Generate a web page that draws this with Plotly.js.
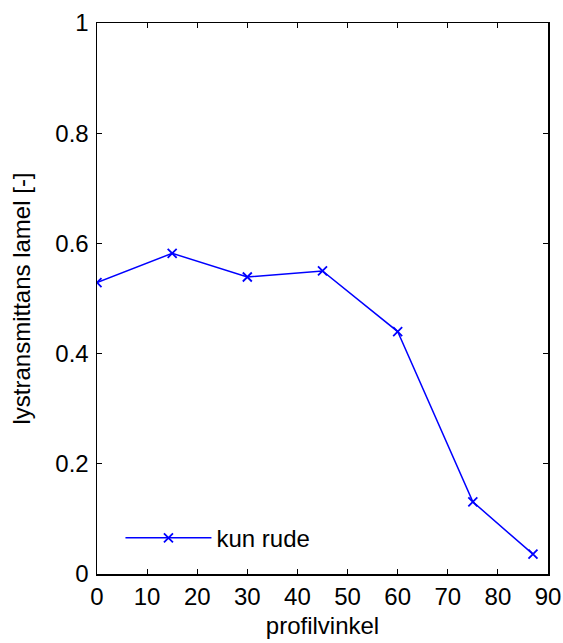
<!DOCTYPE html>
<html>
<head>
<meta charset="utf-8">
<script src="https://cdn.plot.ly/plotly-3.0.1.min.js"></script>
<style>html,body{margin:0;padding:0;background:#fff;}#plot{width:563px;height:643px;}</style>
</head>
<body>
<div id="plot"></div>
<script>
const profileAngles = [0, 15, 30, 45, 60, 75, 87];
const transmittance = [0.529, 0.582, 0.539, 0.550, 0.440, 0.131, 0.036];
const seriesName = "kun rude";
const xTicks = [0, 10, 20, 30, 40, 50, 60, 70, 80, 90];
const yTicks = [0, 0.2, 0.4, 0.6, 0.8, 1];
const yTickLabels = ["0", "0.2", "0.4", "0.6", "0.8", "1"];

const font = {family: "Liberation Sans, Arial, sans-serif", size: 24, color: "#000"};
const titleFont = {family: "Liberation Sans, Arial, sans-serif", size: 24, color: "#000"};

const axisCommon = {
  showgrid: false, zeroline: false, showline: true, mirror: "ticks",
  linecolor: "#000", linewidth: 1.5, ticks: "inside", ticklen: 5, tickwidth: 1.2,
  tickcolor: "#000", tickfont: font
};

Plotly.newPlot("plot", [{
  x: profileAngles, y: transmittance, name: seriesName,
  type: "scatter", mode: "lines+markers",
  line: {color: "#0000ff", width: 1.5},
  marker: {symbol: "x-thin-open", size: 9, color: "#0000ff", line: {color: "#0000ff", width: 1.8}}
}], {
  width: 563, height: 643,
  margin: {l: 97, r: 15, t: 23, b: 69, pad: 0},
  paper_bgcolor: "#fff", plot_bgcolor: "#fff",
  font: font,
  showlegend: true,
  legend: {x: 0.052, y: 0.065, xanchor: "left", yanchor: "middle", bgcolor: "rgba(0,0,0,0)",
           font: font, itemwidth: 86},
  xaxis: Object.assign({}, axisCommon, {
    range: [0, 90], tickvals: xTicks, ticktext: xTicks.map(String),
    ticklabelstandoff: 1,
    title: {text: "profilvinkel", font: titleFont, standoff: 8}
  }),
  yaxis: Object.assign({}, axisCommon, {
    range: [0, 1], tickvals: yTicks, ticktext: yTickLabels,
    ticklabelstandoff: 2,
    title: {text: "lystransmittans lamel [-]", font: titleFont, standoff: 18}
  })
}, {displayModeBar: false, staticPlot: true});
</script>
</body>
</html>
